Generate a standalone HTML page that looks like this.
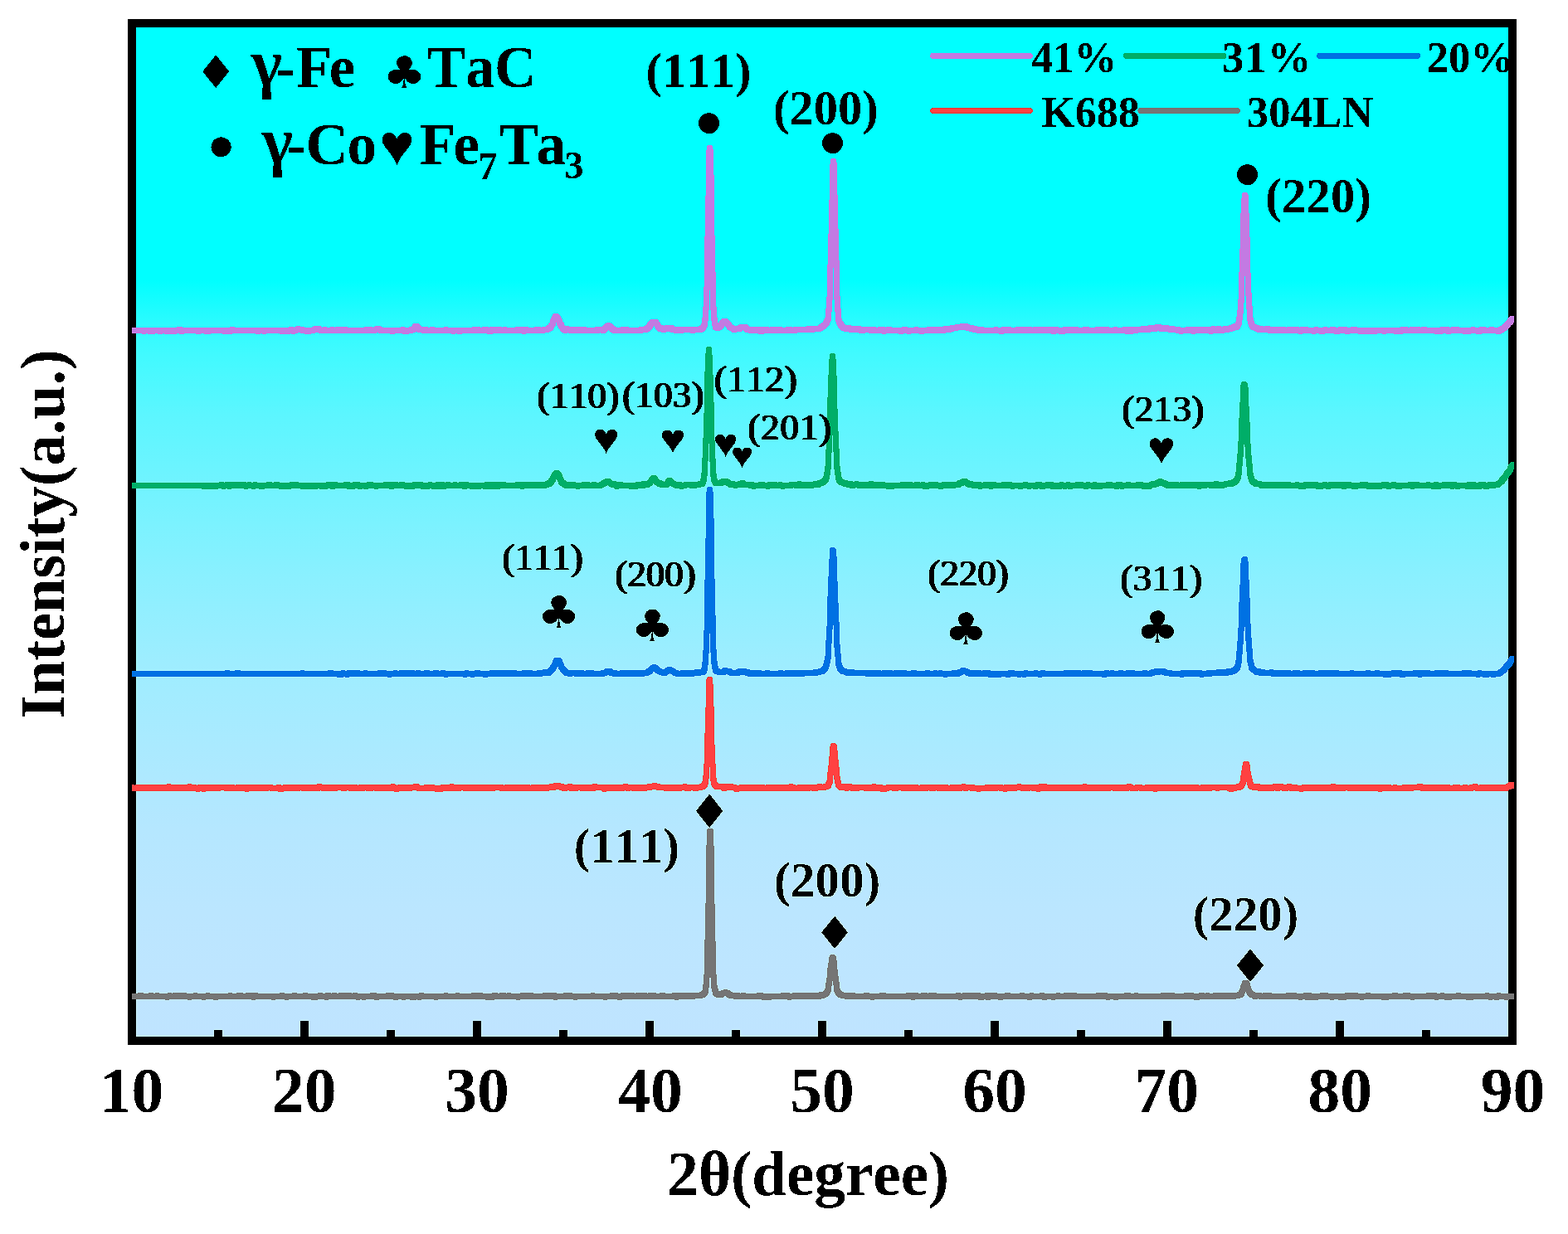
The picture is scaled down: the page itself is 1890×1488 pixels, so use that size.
<!DOCTYPE html>
<html lang="en"><head><meta charset="utf-8"><title>XRD patterns of 304LN, K688 and 20%, 31%, 41% coatings</title>
<style>html,body{margin:0;padding:0;background:#fff;width:1890px;height:1488px;overflow:hidden}svg{display:block}text{font-kerning:none;fill:#000;white-space:pre}</style></head><body>
<svg width="1890" height="1488" viewBox="0 0 1890 1488" role="img" aria-label="XRD patterns: Intensity (a.u.) versus 2θ (degree)">
<defs>
<linearGradient id="bg" gradientUnits="userSpaceOnUse" x1="0" y1="33" x2="0" y2="1250">
<stop offset="0.0000" stop-color="#00ffff"/>
<stop offset="0.2506" stop-color="#00ffff"/>
<stop offset="0.2769" stop-color="#1cfcff"/>
<stop offset="0.3016" stop-color="#34fbff"/>
<stop offset="0.3262" stop-color="#42faff"/>
<stop offset="0.3837" stop-color="#5cf6ff"/>
<stop offset="0.4659" stop-color="#74f3ff"/>
<stop offset="0.5481" stop-color="#8bf0ff"/>
<stop offset="0.6302" stop-color="#9eedff"/>
<stop offset="0.7124" stop-color="#aaeaff"/>
<stop offset="0.7946" stop-color="#b5e7ff"/>
<stop offset="0.8767" stop-color="#bbe6ff"/>
<stop offset="0.9507" stop-color="#bee5ff"/>
<stop offset="1.0000" stop-color="#bfe4ff"/>
</linearGradient>
<filter id="faux" x="-5%" y="-20%" width="110%" height="140%"><feOffset dx="1" dy="0" result="o"/><feOffset in="SourceGraphic" dx="2" dy="0" result="p"/><feMerge><feMergeNode in="SourceGraphic"/><feMergeNode in="o"/><feMergeNode in="p"/></feMerge></filter>
<filter id="crisp" filterUnits="userSpaceOnUse" x="0" y="0" width="1890" height="1488" color-interpolation-filters="sRGB"><feComponentTransfer><feFuncA type="discrete" tableValues="0 1"/></feComponentTransfer></filter>
<filter id="sharpen" filterUnits="userSpaceOnUse" x="0" y="0" width="1890" height="1488" color-interpolation-filters="sRGB"><feConvolveMatrix order="3" kernelMatrix="0 -0.08 0 -0.08 1.32 -0.08 0 -0.08 0" divisor="1" edgeMode="duplicate" preserveAlpha="true"/></filter>
<clipPath id="inner"><rect x="164" y="33" width="1654" height="1217"/></clipPath>
<clipPath id="data"><rect x="159" y="28" width="1665.6" height="1227"/></clipPath>
</defs>
<g id="chart" filter="url(#sharpen)">
<rect x="0" y="0" width="1890" height="1488" fill="#fff"/>
<rect x="164" y="33" width="1654" height="1217" fill="url(#bg)"/>
<g clip-path="url(#inner)">
<g id="legend" stroke-width="7" stroke-linecap="round" fill="none" shape-rendering="crispEdges">
<line x1="1124.6" y1="67.4" x2="1241.3" y2="67.4" stroke="#c37ae2"/>
<line x1="1357.5" y1="67.4" x2="1475" y2="67.4" stroke="#00ae68"/>
<line x1="1590.6" y1="67.4" x2="1708.5" y2="67.4" stroke="#0071e3"/>
<line x1="1124.6" y1="133.5" x2="1241.3" y2="133.5" stroke="#ff4141"/>
<line x1="1375" y1="133.5" x2="1491.3" y2="133.5" stroke="#757575"/>
</g>
<g id="legend-text" filter="url(#crisp)">
<text transform="translate(1243.26,87.10) scale(0.9784,1)" font-family="'Liberation Serif',serif" font-weight="bold" font-size="52.6">41%</text>
<text x="1472.93" y="87.10" font-family="'Liberation Serif',serif" font-weight="bold" font-size="52.6" letter-spacing="1.13">31%</text>
<text x="1719.66" y="87.10" font-family="'Liberation Serif',serif" font-weight="bold" font-size="52.6">20%</text>
<text transform="translate(1255.29,152.80) scale(0.9883,1)" font-family="'Liberation Serif',serif" font-weight="bold" font-size="52.6">K688</text>
<text x="1502.63" y="152.80" font-family="'Liberation Serif',serif" font-weight="bold" font-size="52.6" letter-spacing="0.24">304LN</text>
</g>
</g>
<g shape-rendering="crispEdges">
<rect x="159" y="28" width="1664" height="1227" fill="none" stroke="#000" stroke-width="10"/>
<rect x="258" y="1242" width="10" height="9" fill="#000"/>
<rect x="362" y="1231" width="10" height="20" fill="#000"/>
<rect x="466" y="1242" width="10" height="9" fill="#000"/>
<rect x="570" y="1231" width="10" height="20" fill="#000"/>
<rect x="674" y="1242" width="10" height="9" fill="#000"/>
<rect x="778" y="1231" width="10" height="20" fill="#000"/>
<rect x="882" y="1242" width="10" height="9" fill="#000"/>
<rect x="986" y="1231" width="10" height="20" fill="#000"/>
<rect x="1090" y="1242" width="10" height="9" fill="#000"/>
<rect x="1194" y="1231" width="10" height="20" fill="#000"/>
<rect x="1298" y="1242" width="10" height="9" fill="#000"/>
<rect x="1402" y="1231" width="10" height="20" fill="#000"/>
<rect x="1506" y="1242" width="10" height="9" fill="#000"/>
<rect x="1610" y="1231" width="10" height="20" fill="#000"/>
<rect x="1714" y="1242" width="10" height="9" fill="#000"/>
</g>
<g id="curves" shape-rendering="crispEdges" stroke="none">
<path id="c-grey" fill="#757575" d="M853 999h6v1h-6zM852 1000h8v19h-8zM851 1019h9v1h-9zM851 1020h10v69h-10zM850 1089h11v1h-11zM850 1090h12v43h-12zM849 1133h13v2h-13zM1001 1151h5v1h-5zM1000 1152h7v1h-7zM1000 1153h8v1h-8zM999 1154h9v4h-9zM999 1158h10v3h-10zM998 1161h11v6h-11zM997 1167h12v2h-12zM849 1135h14v40h-14zM997 1169h13v8h-13zM848 1175h16v4h-16zM997 1177h14v2h-14zM996 1179h15v4h-15zM1498 1182h7v1h-7zM1004 1183h7v1h-7zM996 1183h7v2h-7zM1497 1183h9v2h-9zM1497 1185h10v1h-10zM848 1179h7v8h-7zM857 1179h7v9h-7zM1004 1184h8v4h-8zM1496 1186h11v2h-11zM995 1185h8v4h-8zM1495 1188h12v1h-12zM847 1187h8v4h-8zM857 1188h8v4h-8zM1005 1188h7v4h-7zM995 1189h7v3h-7zM1495 1189h13v3h-13zM847 1191h7v3h-7zM1005 1192h8v2h-8zM994 1192h8v2h-8zM1494 1192h15v2h-15zM872 1193h5v1h-5zM858 1192h8v3h-8zM869 1194h11v1h-11zM1493 1194h17v1h-17zM993 1194h9v1h-9zM846 1194h8v1h-8zM1005 1194h9v1h-9zM1493 1195h18v1h-18zM858 1195h23v1h-23zM992 1195h10v1h-10zM1005 1195h10v1h-10zM845 1195h9v1h-9zM1491 1196h10v1h-10zM859 1196h24v1h-24zM1502 1196h11v1h-11zM843 1196h11v1h-11zM1006 1196h11v1h-11zM987 1196h14v1h-14zM1678 1197h7v1h-7zM275 1197h5v1h-5zM1550 1197h13v1h-13zM941 1197h11v1h-11zM1041 1197h7v1h-7zM712 1197h5v1h-5zM383 1197h6v1h-6zM1187 1197h15v1h-15zM955 1197h46v1h-46zM1092 1197h15v1h-15zM1152 1197h6v1h-6zM912 1197h8v1h-8zM505 1197h6v1h-6zM1282 1197h16v1h-16zM1060 1197h8v1h-8zM679 1197h11v1h-11zM1790 1197h5v1h-5zM1119 1197h10v1h-10zM365 1197h6v1h-6zM748 1197h17v1h-17zM446 1197h8v1h-8zM1160 1197h22v1h-22zM1445 1197h7v1h-7zM296 1197h15v1h-15zM1241 1197h5v1h-5zM1646 1197h6v1h-6zM1229 1197h6v1h-6zM208 1197h17v1h-17zM166 1197h7v1h-7zM1427 1197h12v1h-12zM1453 1197h5v1h-5zM535 1197h5v1h-5zM781 1197h10v1h-10zM1253 1197h6v1h-6zM810 1197h44v1h-44zM1367 1197h5v1h-5zM179 1197h6v1h-6zM400 1197h6v1h-6zM202 1197h5v1h-5zM1719 1197h13v1h-13zM1755 1197h6v1h-6zM1399 1197h17v1h-17zM337 1197h6v1h-6zM1691 1197h9v1h-9zM893 1197h6v1h-6zM1736 1197h5v1h-5zM425 1197h6v1h-6zM602 1197h8v1h-8zM408 1197h16v1h-16zM1273 1197h5v1h-5zM593 1197h7v1h-7zM549 1197h5v1h-5zM233 1197h5v1h-5zM568 1197h14v1h-14zM1110 1197h8v1h-8zM285 1197h8v1h-8zM248 1197h5v1h-5zM859 1197h33v1h-33zM611 1197h5v1h-5zM1591 1197h10v1h-10zM1804 1197h5v1h-5zM627 1197h16v1h-16zM1355 1197h8v1h-8zM1211 1197h7v1h-7zM352 1197h6v1h-6zM1462 1197h39v1h-39zM1621 1197h16v1h-16zM654 1197h17v1h-17zM735 1197h10v1h-10zM1571 1197h10v1h-10zM795 1197h7v1h-7zM465 1197h10v1h-10zM1502 1197h19v1h-19zM1006 1197h25v1h-25zM1522 1197h11v1h-11zM392 1197h7v1h-7zM187 1197h5v1h-5zM766 1197h14v1h-14zM1321 1197h14v1h-14zM859 1198h141v2h-141zM159 1198h694v2h-694zM1007 1198h493v2h-493zM1503 1198h322v2h-322zM860 1200h139v1h-139zM1504 1200h321v1h-321zM1008 1200h492v1h-492zM159 1200h693v1h-693zM861 1201h12v1h-12zM875 1201h123v1h-123zM159 1201h692v1h-692zM1505 1201h320v1h-320zM1009 1201h490v1h-490zM863 1202h9v1h-9zM1506 1202h319v1h-319zM1010 1202h488v1h-488zM876 1202h120v1h-120zM159 1202h691v1h-691zM159 1203h688v1h-688zM1509 1203h316v1h-316zM1013 1203h482v1h-482zM878 1203h116v1h-116zM884 1204h106v1h-106zM159 1204h679v1h-679zM1018 1204h472v1h-472zM1517 1204h308v1h-308zM1510 1204h6v1h-6zM523 1205h5v1h-5zM474 1205h6v1h-6zM436 1205h5v1h-5zM1439 1205h7v1h-7zM451 1205h6v1h-6zM243 1205h5v1h-5zM1801 1205h6v1h-6zM303 1205h5v1h-5zM1741 1205h9v1h-9zM1565 1205h5v1h-5zM1267 1205h5v1h-5zM1342 1205h6v1h-6zM1639 1205h5v1h-5zM813 1205h5v1h-5zM1573 1205h16v1h-16zM1179 1205h7v1h-7zM327 1205h5v1h-5zM391 1205h5v1h-5zM226 1205h5v1h-5zM1256 1205h6v1h-6zM1603 1205h5v1h-5zM199 1205h5v1h-5zM1098 1205h5v1h-5zM1333 1205h5v1h-5zM667 1205h5v1h-5zM1238 1205h6v1h-6zM429 1205h5v1h-5zM484 1205h5v1h-5zM1700 1205h5v1h-5zM1049 1205h5v1h-5zM1665 1205h9v1h-9zM727 1205h5v1h-5zM503 1205h5v1h-5zM1188 1205h6v1h-6zM691 1205h5v1h-5zM257 1205h6v1h-6zM585 1205h11v1h-11zM622 1205h5v1h-5zM494 1205h8v1h-8zM1155 1205h5v1h-5zM375 1205h8v1h-8zM744 1205h6v1h-6zM1813 1205h6v1h-6zM1613 1205h10v1h-10zM1767 1205h9v1h-9zM949 1205h5v1h-5zM1729 1205h5v1h-5zM918 1205h12v1h-12zM1794 1205h5v1h-5zM343 1205h5v1h-5zM1203 1205h6v1h-6z"/>
<path id="c-red" fill="#ff4141" d="M853 816h5v1h-5zM852 817h7v2h-7zM851 819h8v6h-8zM851 825h9v27h-9zM851 852h10v1h-10zM850 853h11v31h-11zM1002 896h5v1h-5zM849 884h12v14h-12zM1001 897h7v1h-7zM1001 898h8v2h-8zM1000 900h9v5h-9zM1000 905h10v7h-10zM999 912h11v4h-11zM1499 918h6v1h-6zM849 898h13v23h-13zM1498 919h8v3h-8zM999 916h12v7h-12zM1498 922h9v1h-9zM848 921h15v4h-15zM998 923h13v2h-13zM1497 923h10v6h-10zM1496 929h11v1h-11zM998 925h14v6h-14zM848 925h7v10h-7zM1496 930h12v5h-12zM997 931h15v4h-15zM1005 935h7v1h-7zM856 925h7v13h-7zM1495 935h14v4h-14zM847 935h8v4h-8zM1005 936h8v4h-8zM997 935h7v6h-7zM1006 940h7v1h-7zM856 938h8v4h-8zM1495 939h15v3h-15zM847 939h7v3h-7zM996 941h8v2h-8zM1494 942h16v1h-16zM857 942h7v1h-7zM846 942h8v2h-8zM1818 943h7v1h-7zM857 943h8v1h-8zM1494 943h8v1h-8zM1006 941h8v4h-8zM995 943h9v2h-9zM1503 943h8v2h-8zM786 944h6v1h-6zM1493 944h9v1h-9zM1817 944h8v1h-8zM845 944h9v1h-9zM667 944h9v1h-9zM857 944h9v1h-9zM662 945h18v1h-18zM201 945h5v1h-5zM1503 945h16v1h-16zM1051 945h5v1h-5zM542 945h5v1h-5zM951 945h5v1h-5zM1226 945h5v1h-5zM992 945h11v1h-11zM1604 945h6v1h-6zM1252 945h10v1h-10zM714 945h6v1h-6zM226 945h5v1h-5zM1305 945h5v1h-5zM780 945h16v1h-16zM985 945h6v1h-6zM751 945h6v1h-6zM823 945h5v1h-5zM1490 945h12v1h-12zM1775 945h6v1h-6zM1358 945h6v1h-6zM1159 945h5v1h-5zM857 945h27v1h-27zM1708 945h7v1h-7zM1007 945h20v1h-20zM1551 945h6v1h-6zM1534 945h13v1h-13zM471 945h5v1h-5zM684 945h6v1h-6zM1815 945h10v1h-10zM498 945h7v1h-7zM843 945h11v1h-11zM382 945h6v1h-6zM1187 946h22v1h-22zM608 946h31v1h-31zM1569 946h108v1h-108zM163 946h74v1h-74zM1380 946h65v1h-65zM1771 946h11v1h-11zM923 946h36v1h-36zM1109 946h34v1h-34zM1751 946h9v1h-9zM479 946h27v1h-27zM857 946h31v1h-31zM1145 946h30v1h-30zM1210 946h156v1h-156zM1447 946h54v1h-54zM640 946h213v1h-213zM1503 946h61v1h-61zM333 946h6v1h-6zM961 946h42v1h-42zM159 946h3v1h-3zM1007 946h57v1h-57zM1783 946h42v1h-42zM341 946h90v1h-90zM531 946h76v1h-76zM891 946h31v1h-31zM1068 946h39v1h-39zM432 946h46v1h-46zM1763 946h6v1h-6zM511 946h13v1h-13zM238 946h45v1h-45zM1690 946h58v1h-58zM1368 946h9v1h-9zM284 946h45v1h-45zM1679 946h5v1h-5zM1007 947h494v1h-494zM159 947h694v2h-694zM858 947h144v2h-144zM1007 948h493v1h-493zM1504 947h321v3h-321zM859 949h143v1h-143zM1008 949h492v1h-492zM159 949h693v1h-693zM1505 950h320v1h-320zM860 950h141v1h-141zM159 950h692v1h-692zM1009 950h490v1h-490zM1010 951h488v1h-488zM861 951h138v1h-138zM159 951h691v1h-691zM1506 951h316v1h-316zM869 952h127v1h-127zM1509 952h310v1h-310zM1011 952h485v1h-485zM674 952h112v1h-112zM159 952h511v1h-511zM791 952h56v1h-56zM677 953h7v1h-7zM1778 953h40v1h-40zM1554 953h68v1h-68zM1120 953h8v1h-8zM1243 953h96v1h-96zM978 953h8v1h-8zM1373 953h88v1h-88zM761 953h19v1h-19zM1465 953h5v1h-5zM870 953h6v1h-6zM1362 953h10v1h-10zM1041 953h31v1h-31zM363 953h23v1h-23zM602 953h60v1h-60zM1075 953h8v1h-8zM159 953h107v1h-107zM835 953h7v1h-7zM502 953h54v1h-54zM1169 953h34v1h-34zM1341 953h20v1h-20zM325 953h37v1h-37zM1624 953h80v1h-80zM1025 953h11v1h-11zM387 953h20v1h-20zM1516 953h20v1h-20zM725 953h28v1h-28zM1086 953h33v1h-33zM1129 953h31v1h-31zM686 953h11v1h-11zM558 953h39v1h-39zM420 953h20v1h-20zM1018 953h5v1h-5zM1537 953h6v1h-6zM1230 953h12v1h-12zM699 953h19v1h-19zM1161 953h6v1h-6zM1204 953h22v1h-22zM1545 953h8v1h-8zM825 953h8v1h-8zM884 953h93v1h-93zM1712 953h64v1h-64zM800 953h22v1h-22zM270 953h54v1h-54zM441 953h9v1h-9zM411 953h7v1h-7zM1479 953h12v1h-12zM451 953h46v1h-46zM754 953h6v1h-6zM726 954h5v1h-5zM335 954h7v1h-7zM1566 954h5v1h-5zM243 954h5v1h-5zM475 954h6v1h-6zM236 954h5v1h-5zM524 954h10v1h-10zM1061 954h8v1h-8zM1177 954h5v1h-5zM1390 954h5v1h-5zM1661 954h5v1h-5zM1481 954h6v1h-6zM1209 954h5v1h-5zM885 954h6v1h-6zM295 954h5v1h-5zM1249 954h5v1h-5z"/>
<path id="c-blue" fill="#0071e3" d="M853 587h5v1h-5zM852 588h7v5h-7zM851 593h9v32h-9zM851 625h10v24h-10zM1001 660h5v1h-5zM1000 661h7v1h-7zM1000 662h8v9h-8zM1498 671h5v1h-5zM1497 672h7v1h-7zM1000 671h9v3h-9zM1496 673h8v4h-8zM1496 677h9v2h-9zM999 674h10v21h-10zM850 649h11v49h-11zM1495 679h10v20h-10zM850 698h12v1h-12zM998 695h11v6h-11zM1495 699h11v6h-11zM998 701h12v18h-12zM1494 705h12v16h-12zM1494 721h13v5h-13zM997 719h13v8h-13zM849 699h13v43h-13zM997 727h14v23h-14zM1493 726h14v26h-14zM997 750h15v4h-15zM997 754h7v1h-7zM1493 752h15v4h-15zM1493 756h7v1h-7zM996 755h8v4h-8zM849 742h14v18h-14zM1492 757h8v4h-8zM848 760h15v4h-15zM1501 756h7v13h-7zM996 759h7v13h-7zM1492 761h7v12h-7zM1501 769h8v4h-8zM995 772h8v4h-8zM1005 754h7v23h-7zM1491 773h8v4h-8zM1005 777h8v4h-8zM1502 773h7v9h-7zM856 764h7v19h-7zM848 764h7v20h-7zM1491 777h7v8h-7zM1502 782h8v4h-8zM856 783h8v4h-8zM1006 781h7v7h-7zM847 784h8v4h-8zM1490 785h8v4h-8zM995 776h7v15h-7zM1006 788h8v4h-8zM1820 791h5v1h-5zM1819 792h6v2h-6zM668 793h8v1h-8zM1503 786h7v9h-7zM994 791h8v4h-8zM1818 794h7v1h-7zM667 794h10v1h-10zM1490 789h7v7h-7zM667 795h11v1h-11zM994 795h7v1h-7zM857 787h7v10h-7zM1817 795h8v2h-8zM847 788h7v10h-7zM666 796h12v2h-12zM1816 797h9v1h-9zM1007 792h7v7h-7zM1503 795h8v4h-8zM666 798h13v1h-13zM1815 798h10v1h-10zM1489 796h8v4h-8zM993 796h8v4h-8zM665 799h14v1h-14zM1814 799h10v1h-10zM857 797h8v4h-8zM1489 800h7v1h-7zM1813 800h11v1h-11zM665 800h15v1h-15zM846 798h8v4h-8zM1007 799h8v3h-8zM786 801h5v1h-5zM664 801h16v1h-16zM1504 799h8v4h-8zM992 800h8v3h-8zM858 801h7v2h-7zM1812 801h11v2h-11zM1488 801h8v2h-8zM1007 802h9v1h-9zM784 802h9v1h-9zM663 802h17v1h-17zM783 803h11v1h-11zM1008 803h8v1h-8zM1811 803h11v1h-11zM663 803h18v1h-18zM991 803h9v1h-9zM1487 803h9v1h-9zM1505 803h8v1h-8zM846 802h7v3h-7zM782 804h13v1h-13zM990 804h9v1h-9zM1505 804h9v1h-9zM673 804h9v1h-9zM804 804h6v1h-6zM662 804h10v1h-10zM1810 804h11v1h-11zM1008 804h9v1h-9zM1486 804h10v1h-10zM858 803h8v3h-8zM673 805h10v1h-10zM1484 805h11v1h-11zM1505 805h10v1h-10zM989 805h10v1h-10zM781 805h15v1h-15zM1158 805h6v1h-6zM871 805h6v1h-6zM802 805h10v1h-10zM1008 805h10v1h-10zM1809 805h11v1h-11zM661 805h10v1h-10zM845 805h8v2h-8zM1391 806h14v1h-14zM1478 806h17v1h-17zM801 806h13v1h-13zM1157 806h10v1h-10zM870 806h12v1h-12zM1808 806h11v1h-11zM660 806h11v1h-11zM889 806h11v1h-11zM986 806h13v1h-13zM858 806h10v1h-10zM1009 806h12v1h-12zM1505 806h15v1h-15zM729 806h9v1h-9zM673 806h11v1h-11zM779 806h19v1h-19zM1387 807h20v1h-20zM778 807h37v1h-37zM1505 807h20v1h-20zM837 807h16v1h-16zM674 807h11v1h-11zM887 807h17v1h-17zM859 807h24v1h-24zM728 807h11v1h-11zM980 807h18v1h-18zM1154 807h15v1h-15zM1530 807h5v1h-5zM1806 807h12v1h-12zM1009 807h21v1h-21zM1466 807h29v1h-29zM654 807h16v1h-16zM362 808h5v1h-5zM1805 808h12v1h-12zM572 808h7v1h-7zM283 808h7v1h-7zM1063 808h13v1h-13zM938 808h6v1h-6zM1781 808h5v1h-5zM560 808h5v1h-5zM1125 808h5v1h-5zM522 808h7v1h-7zM647 808h23v1h-23zM747 808h71v1h-71zM1009 808h53v1h-53zM1282 808h21v1h-21zM481 808h19v1h-19zM1077 808h16v1h-16zM1423 808h26v1h-26zM455 808h11v1h-11zM706 808h10v1h-10zM474 808h5v1h-5zM675 808h29v1h-29zM1558 808h9v1h-9zM1454 808h40v1h-40zM1385 808h28v1h-28zM590 808h33v1h-33zM1184 808h10v1h-10zM1131 808h5v1h-5zM1646 808h6v1h-6zM1348 808h6v1h-6zM1246 808h5v1h-5zM1506 808h50v1h-50zM820 808h33v1h-33zM395 808h7v1h-7zM531 808h6v1h-6zM411 808h5v1h-5zM418 808h16v1h-16zM1627 808h5v1h-5zM1338 808h5v1h-5zM629 808h13v1h-13zM438 808h5v1h-5zM1304 808h13v1h-13zM859 808h59v1h-59zM922 808h6v1h-6zM946 808h52v1h-52zM1377 808h6v1h-6zM1589 808h25v1h-25zM1762 808h12v1h-12zM1098 808h7v1h-7zM271 808h6v1h-6zM511 808h7v1h-7zM1115 808h6v1h-6zM1331 808h6v1h-6zM1147 808h36v1h-36zM1357 808h11v1h-11zM1657 808h6v1h-6zM1677 808h13v1h-13zM501 808h6v1h-6zM1254 808h6v1h-6zM724 808h20v1h-20zM1215 808h8v1h-8zM1703 808h21v1h-21zM1729 808h17v1h-17zM1234 808h5v1h-5zM1570 808h15v1h-15zM159 809h510v1h-510zM675 809h177v1h-177zM1010 809h483v1h-483zM859 809h138v1h-138zM1507 809h310v1h-310zM789 810h63v1h-63zM859 810h137v1h-137zM676 810h111v1h-111zM159 810h509v1h-509zM1508 810h308v1h-308zM1011 810h481v1h-481zM677 811h110v1h-110zM790 811h62v1h-62zM860 811h135v1h-135zM1012 811h479v1h-479zM1510 811h305v1h-305zM159 811h508v1h-508zM678 812h108v1h-108zM861 812h133v1h-133zM792 812h15v1h-15zM808 812h43v1h-43zM1013 812h476v1h-476zM1511 812h302v1h-302zM159 812h507v1h-507zM1400 813h86v1h-86zM1017 813h144v1h-144zM877 813h113v1h-113zM679 813h105v1h-105zM159 813h506v1h-506zM1512 813h300v1h-300zM810 813h40v1h-40zM794 813h11v1h-11zM864 813h11v1h-11zM1163 813h236v1h-236zM1517 814h294v1h-294zM1164 814h228v1h-228zM797 814h7v1h-7zM898 814h88v1h-88zM1403 814h78v1h-78zM1019 814h140v1h-140zM680 814h52v1h-52zM159 814h505v1h-505zM811 814h34v1h-34zM879 814h13v1h-13zM734 814h48v1h-48zM1167 815h222v1h-222zM1532 815h277v1h-277zM684 815h6v1h-6zM1043 815h114v1h-114zM738 815h39v1h-39zM901 815h69v1h-69zM692 815h37v1h-37zM814 815h23v1h-23zM1409 815h52v1h-52zM159 815h495v1h-495zM1446 816h5v1h-5zM1687 816h7v1h-7zM1328 816h6v1h-6zM1226 816h5v1h-5zM1797 816h6v1h-6zM1709 816h5v1h-5zM1787 816h8v1h-8zM406 816h8v1h-8zM1232 816h5v1h-5zM582 816h6v1h-6zM1251 816h5v1h-5zM1667 816h10v1h-10zM567 816h5v1h-5zM535 816h5v1h-5zM1779 816h5v1h-5zM558 816h5v1h-5zM1137 816h5v1h-5zM416 816h5v1h-5zM1212 816h6v1h-6zM467 816h5v1h-5zM1422 816h5v1h-5zM1191 816h16v1h-16z"/>
<path id="c-green" fill="#00ae68" d="M852 418h5v1h-5zM851 419h7v7h-7zM1001 426h5v1h-5zM850 426h8v2h-8zM1000 427h7v6h-7zM850 428h9v20h-9zM999 433h9v19h-9zM849 448h10v4h-10zM998 452h10v1h-10zM1497 460h5v1h-5zM1496 461h7v1h-7zM1496 462h8v2h-8zM1495 464h9v3h-9zM998 453h11v26h-11zM849 452h11v33h-11zM1495 467h10v18h-10zM1494 485h11v5h-11zM997 479h12v14h-12zM849 485h12v13h-12zM1494 490h12v14h-12zM1493 504h13v5h-13zM997 493h13v27h-13zM997 520h14v1h-14zM996 521h15v4h-15zM848 498h13v30h-13zM847 528h14v3h-14zM1493 509h14v23h-14zM847 531h15v4h-15zM1492 532h15v3h-15zM1492 535h16v1h-16zM1500 536h8v3h-8zM1004 525h7v16h-7zM996 525h7v17h-7zM1004 541h8v4h-8zM995 542h8v4h-8zM1492 536h7v11h-7zM1501 539h7v10h-7zM1491 547h8v4h-8zM847 535h7v17h-7zM855 535h7v18h-7zM1501 549h8v4h-8zM846 552h8v4h-8zM855 553h8v4h-8zM1491 551h7v7h-7zM1821 557h4v1h-4zM1502 553h7v6h-7zM1820 558h5v1h-5zM1819 559h6v1h-6zM1005 545h7v17h-7zM995 546h7v16h-7zM1490 558h8v4h-8zM1818 560h7v2h-7zM1502 559h8v4h-8zM1817 562h8v3h-8zM1005 562h8v4h-8zM994 562h8v4h-8zM1816 565h9v1h-9zM1815 566h9v1h-9zM668 567h6v1h-6zM1814 567h10v1h-10zM1490 562h7v7h-7zM994 566h7v3h-7zM1006 566h7v3h-7zM667 568h8v1h-8zM1813 568h11v1h-11zM846 556h7v14h-7zM1503 563h7v7h-7zM666 569h10v1h-10zM1813 569h10v1h-10zM856 557h7v14h-7zM1812 570h10v2h-10zM665 570h12v2h-12zM1489 569h8v4h-8zM993 569h8v4h-8zM1006 569h8v4h-8zM1811 572h10v1h-10zM1503 570h8v4h-8zM845 570h8v4h-8zM664 572h14v2h-14zM1810 573h10v1h-10zM993 573h7v1h-7zM785 573h6v1h-6zM1489 573h7v1h-7zM856 571h8v4h-8zM1007 573h7v2h-7zM1809 574h10v1h-10zM663 574h15v1h-15zM784 574h8v1h-8zM992 574h8v2h-8zM1488 574h8v2h-8zM1808 575h11v1h-11zM783 575h10v1h-10zM663 575h16v1h-16zM845 574h7v3h-7zM1504 574h8v3h-8zM1007 575h8v2h-8zM857 575h7v2h-7zM662 576h17v1h-17zM991 576h9v1h-9zM1487 576h9v1h-9zM1807 576h11v1h-11zM804 576h6v1h-6zM782 576h11v1h-11zM661 577h19v1h-19zM869 577h9v1h-9zM990 577h10v1h-10zM1007 577h9v1h-9zM803 577h8v1h-8zM1504 577h9v1h-9zM729 577h7v1h-7zM1396 577h5v1h-5zM782 577h12v1h-12zM1159 577h7v1h-7zM1486 577h10v1h-10zM1807 577h10v1h-10zM857 577h8v2h-8zM1806 578h11v1h-11zM1484 578h11v1h-11zM661 578h9v1h-9zM1157 578h10v1h-10zM1505 578h10v1h-10zM802 578h10v1h-10zM1007 578h11v1h-11zM1394 578h9v1h-9zM988 578h11v1h-11zM867 578h13v1h-13zM781 578h14v1h-14zM727 578h10v1h-10zM671 578h9v1h-9zM844 577h8v3h-8zM780 579h18v1h-18zM892 579h6v1h-6zM1480 579h15v1h-15zM1008 579h14v1h-14zM857 579h24v1h-24zM985 579h14v1h-14zM1805 579h11v1h-11zM672 579h10v1h-10zM1154 579h15v1h-15zM725 579h13v1h-13zM1392 579h14v1h-14zM1505 579h11v1h-11zM659 579h11v1h-11zM802 579h11v1h-11zM980 580h19v1h-19zM889 580h10v1h-10zM1387 580h21v1h-21zM724 580h19v1h-19zM1505 580h16v1h-16zM841 580h11v1h-11zM773 580h27v1h-27zM1153 580h20v1h-20zM657 580h13v1h-13zM1463 580h6v1h-6zM1030 580h5v1h-5zM961 580h5v1h-5zM1803 580h12v1h-12zM801 580h14v1h-14zM672 580h11v1h-11zM1475 580h19v1h-19zM1008 580h20v1h-20zM1047 580h6v1h-6zM857 580h29v1h-29zM298 581h5v1h-5zM1285 581h5v1h-5zM1260 581h10v1h-10zM1008 581h59v1h-59zM1110 581h5v1h-5zM1571 581h18v1h-18zM1782 581h9v1h-9zM1594 581h6v1h-6zM1248 581h8v1h-8zM1369 581h9v1h-9zM349 581h11v1h-11zM713 581h6v1h-6zM481 581h7v1h-7zM1677 581h6v1h-6zM553 581h12v1h-12zM264 581h6v1h-6zM766 581h56v1h-56zM1561 581h5v1h-5zM1345 581h8v1h-8zM925 581h12v1h-12zM1085 581h15v1h-15zM1768 581h11v1h-11zM271 581h26v1h-26zM621 581h48v1h-48zM701 581h10v1h-10zM1135 581h48v1h-48zM1277 581h5v1h-5zM321 581h7v1h-7zM425 581h9v1h-9zM914 581h8v1h-8zM1309 581h5v1h-5zM1728 581h6v1h-6zM1601 581h28v1h-28zM330 581h7v1h-7zM824 581h27v1h-27zM673 581h21v1h-21zM1233 581h6v1h-6zM414 581h8v1h-8zM951 581h47v1h-47zM1793 581h21v1h-21zM938 581h5v1h-5zM1357 581h6v1h-6zM1333 581h8v1h-8zM462 581h18v1h-18zM1506 581h50v1h-50zM516 581h5v1h-5zM442 581h8v1h-8zM1639 581h10v1h-10zM1102 581h7v1h-7zM1738 581h18v1h-18zM584 581h26v1h-26zM525 581h11v1h-11zM1207 581h13v1h-13zM1665 581h9v1h-9zM1119 581h12v1h-12zM722 581h29v1h-29zM305 581h5v1h-5zM1719 581h5v1h-5zM1185 581h16v1h-16zM1385 581h36v1h-36zM1296 581h10v1h-10zM1317 581h5v1h-5zM1697 581h14v1h-14zM537 581h6v1h-6zM497 581h13v1h-13zM393 581h14v1h-14zM1422 581h72v1h-72zM858 581h51v1h-51zM546 581h5v1h-5zM673 582h178v1h-178zM858 582h139v1h-139zM1009 582h484v1h-484zM1506 582h308v1h-308zM159 582h509v2h-509zM1507 583h306v1h-306zM1010 583h482v1h-482zM859 583h137v1h-137zM788 583h63v1h-63zM673 583h114v1h-114zM1011 584h480v1h-480zM1508 584h303v1h-303zM674 584h113v1h-113zM859 584h136v1h-136zM159 584h508v1h-508zM789 584h61v1h-61zM733 585h53v1h-53zM1510 585h300v1h-300zM1163 585h326v1h-326zM675 585h57v1h-57zM875 585h118v1h-118zM1014 585h148v1h-148zM791 585h59v1h-59zM860 585h12v1h-12zM159 585h507v1h-507zM677 586h53v1h-53zM877 586h113v1h-113zM1511 586h298v1h-298zM734 586h50v1h-50zM159 586h506v1h-506zM792 586h15v1h-15zM1164 586h233v1h-233zM1016 586h143v1h-143zM1401 586h86v1h-86zM809 586h40v1h-40zM1020 587h138v1h-138zM1403 587h76v1h-76zM159 587h503v1h-503zM1166 587h228v1h-228zM795 587h11v1h-11zM878 587h111v1h-111zM811 587h34v1h-34zM736 587h47v1h-47zM1517 587h291v1h-291zM678 587h50v1h-50zM1033 588h119v1h-119zM159 588h500v1h-500zM957 588h24v1h-24zM1171 588h218v1h-218zM680 588h46v1h-46zM1518 588h285v1h-285zM902 588h54v1h-54zM740 588h38v1h-38zM884 588h5v1h-5zM1405 588h50v1h-50zM1024 588h7v1h-7zM831 588h9v1h-9zM813 588h15v1h-15zM1457 588h19v1h-19zM941 589h5v1h-5zM1287 589h6v1h-6zM336 589h15v1h-15zM557 589h6v1h-6zM1617 589h6v1h-6zM1754 589h6v1h-6zM1766 589h20v1h-20zM243 589h20v1h-20zM294 589h5v1h-5zM303 589h5v1h-5zM1227 589h6v1h-6zM1131 589h6v1h-6zM1629 589h8v1h-8zM1068 589h10v1h-10zM520 589h18v1h-18zM1245 589h6v1h-6zM1350 589h5v1h-5zM694 589h5v1h-5zM438 589h6v1h-6zM1281 589h5v1h-5zM1112 589h8v1h-8zM1647 589h19v1h-19zM758 589h11v1h-11zM923 589h5v1h-5zM1306 589h6v1h-6zM267 589h5v1h-5zM385 589h10v1h-10zM451 589h5v1h-5zM1343 589h6v1h-6zM1586 589h9v1h-9zM1218 589h5v1h-5zM398 589h6v1h-6zM566 589h14v1h-14zM312 589h7v1h-7zM906 589h5v1h-5zM1443 589h5v1h-5zM1253 589h7v1h-7zM418 589h10v1h-10zM741 589h5v1h-5zM1376 589h12v1h-12zM507 589h11v1h-11zM1700 589h5v1h-5zM1682 589h8v1h-8zM431 589h6v1h-6zM487 589h13v1h-13zM582 589h21v1h-21zM1315 589h14v1h-14zM819 589h5v1h-5zM1725 589h12v1h-12zM1192 589h5v1h-5zM362 589h21v1h-21zM1565 589h9v1h-9zM627 589h5v1h-5zM274 589h5v1h-5zM1266 589h14v1h-14zM1671 589h6v1h-6zM1238 589h5v1h-5zM469 589h6v1h-6zM1748 589h5v1h-5zM1788 589h7v1h-7zM1179 589h5v1h-5zM1598 589h6v1h-6z"/>
<path id="c-purple" fill="#c37ae2" d="M853 175h5v1h-5zM852 176h7v4h-7zM852 180h8v1h-8zM1002 191h5v1h-5zM1001 192h7v4h-7zM1001 196h8v2h-8zM851 181h9v30h-9zM1498 232h5v1h-5zM1000 198h9v37h-9zM1497 233h7v2h-7zM851 211h10v25h-10zM1497 235h8v4h-8zM1000 235h10v6h-10zM1496 239h9v18h-9zM999 241h11v35h-11zM999 276h12v6h-12zM850 236h11v48h-11zM850 284h12v1h-12zM1495 257h11v29h-11zM1495 286h12v14h-12zM998 282h13v32h-13zM998 314h14v5h-14zM997 319h15v4h-15zM849 285h13v43h-13zM1494 300h13v28h-13zM1493 328h14v1h-14zM1493 329h15v4h-15zM849 328h14v18h-14zM848 346h15v4h-15zM1501 333h7v20h-7zM1005 323h7v34h-7zM1501 353h8v4h-8zM997 323h7v35h-7zM1493 333h7v28h-7zM1005 357h8v4h-8zM996 358h8v4h-8zM1492 361h8v4h-8zM1502 357h7v12h-7zM848 350h7v20h-7zM856 350h7v20h-7zM1006 361h7v11h-7zM996 362h7v10h-7zM1502 369h8v4h-8zM1492 365h7v9h-7zM856 370h8v4h-8zM847 370h8v4h-8zM995 372h8v4h-8zM1006 372h8v4h-8zM1491 374h8v4h-8zM667 378h6v1h-6zM666 379h8v1h-8zM666 380h9v1h-9zM1491 378h7v4h-7zM1820 381h5v1h-5zM1503 373h7v10h-7zM847 374h7v9h-7zM857 374h7v9h-7zM995 376h7v7h-7zM665 381h11v2h-11zM1819 382h6v1h-6zM1007 376h7v8h-7zM1818 383h7v1h-7zM994 383h8v2h-8zM664 383h13v2h-13zM870 384h7v1h-7zM1490 382h8v4h-8zM1817 384h8v2h-8zM869 385h9v1h-9zM784 385h9v1h-9zM857 383h8v4h-8zM1503 383h8v4h-8zM846 383h8v4h-8zM1007 384h8v3h-8zM993 385h9v2h-9zM1816 386h9v1h-9zM783 386h11v1h-11zM868 386h11v1h-11zM663 385h15v3h-15zM1490 386h7v2h-7zM1007 387h9v1h-9zM782 387h12v1h-12zM1815 387h10v1h-10zM867 387h13v1h-13zM858 387h7v2h-7zM992 387h9v2h-9zM867 388h14v1h-14zM1814 388h11v1h-11zM781 388h14v1h-14zM663 388h16v1h-16zM846 387h7v3h-7zM1504 387h8v3h-8zM1489 388h8v2h-8zM1008 388h9v2h-9zM731 389h5v1h-5zM990 389h10v1h-10zM662 389h8v1h-8zM1813 389h11v1h-11zM858 389h24v2h-24zM780 389h16v2h-16zM1157 390h10v1h-10zM1504 390h9v1h-9zM498 390h7v1h-7zM1008 390h10v1h-10zM1486 390h11v1h-11zM729 390h9v1h-9zM1812 390h12v1h-12zM989 390h11v1h-11zM671 389h9v3h-9zM661 390h9v2h-9zM845 390h8v2h-8zM891 391h10v1h-10zM987 391h13v1h-13zM1505 391h10v1h-10zM1009 391h10v1h-10zM779 391h18v1h-18zM1484 391h13v1h-13zM728 391h11v1h-11zM1392 391h8v1h-8zM1151 391h18v1h-18zM858 391h25v1h-25zM497 391h9v1h-9zM1811 391h12v1h-12zM1384 392h25v1h-25zM858 392h27v1h-27zM1481 392h15v1h-15zM672 392h9v1h-9zM1505 392h13v1h-13zM497 392h10v1h-10zM1145 392h29v1h-29zM986 392h13v1h-13zM801 392h11v1h-11zM778 392h22v1h-22zM889 392h13v1h-13zM1810 392h11v1h-11zM727 392h13v1h-13zM844 392h9v1h-9zM659 392h11v1h-11zM1009 392h17v1h-17zM1460 393h5v1h-5zM378 393h9v1h-9zM1466 393h6v1h-6zM1808 393h13v1h-13zM1524 393h7v1h-7zM658 393h11v1h-11zM726 393h15v1h-15zM842 393h11v1h-11zM1010 393h28v1h-28zM874 393h29v1h-29zM672 393h14v1h-14zM1474 393h22v1h-22zM1505 393h18v1h-18zM1375 393h41v1h-41zM789 393h24v1h-24zM496 393h12v1h-12zM357 393h5v1h-5zM452 393h7v1h-7zM972 393h26v1h-26zM776 393h12v1h-12zM1137 393h41v1h-41zM859 393h14v2h-14zM928 394h15v1h-15zM789 394h63v1h-63zM277 394h6v1h-6zM653 394h15v1h-15zM673 394h34v1h-34zM439 394h10v1h-10zM1198 394h5v1h-5zM1068 394h7v1h-7zM450 394h11v1h-11zM1087 394h7v1h-7zM606 394h5v1h-5zM355 394h12v1h-12zM1102 394h5v1h-5zM1584 394h5v1h-5zM590 394h15v1h-15zM875 394h52v1h-52zM1058 394h9v1h-9zM483 394h5v1h-5zM1429 394h66v1h-66zM644 394h8v1h-8zM1736 394h11v1h-11zM569 394h10v1h-10zM1305 394h8v1h-8zM1773 394h5v1h-5zM1506 394h44v1h-44zM1245 394h31v1h-31zM1749 394h10v1h-10zM717 394h26v1h-26zM947 394h8v1h-8zM1342 394h5v1h-5zM1613 394h11v1h-11zM1806 394h14v1h-14zM348 394h6v1h-6zM1117 394h69v1h-69zM748 394h10v1h-10zM1688 394h9v1h-9zM1713 394h7v1h-7zM1595 394h5v1h-5zM1699 394h13v1h-13zM1353 394h70v1h-70zM1281 394h19v1h-19zM1783 394h8v1h-8zM493 394h23v1h-23zM956 394h41v1h-41zM1010 394h46v1h-46zM581 394h8v1h-8zM1551 394h15v1h-15zM518 394h6v1h-6zM398 394h5v1h-5zM535 394h5v1h-5zM1603 394h7v1h-7zM621 394h16v1h-16zM1320 394h17v1h-17zM1628 394h8v1h-8zM376 394h12v1h-12zM1795 394h6v1h-6zM389 394h5v1h-5zM770 394h17v1h-17zM1207 394h12v1h-12zM1567 394h10v1h-10zM404 394h15v1h-15zM213 394h7v1h-7zM1224 394h20v1h-20zM1011 395h484v1h-484zM1506 395h313v1h-313zM876 395h120v1h-120zM159 395h509v1h-509zM790 395h62v1h-62zM673 395h114v1h-114zM859 395h13v1h-13zM859 396h12v1h-12zM1507 396h311v1h-311zM876 396h119v1h-119zM674 396h112v1h-112zM1012 396h482v1h-482zM790 396h61v1h-61zM159 396h508v2h-508zM675 397h110v1h-110zM877 397h116v1h-116zM860 397h10v1h-10zM791 397h60v1h-60zM1013 397h480v1h-480zM1508 397h309v1h-309zM1164 398h325v1h-325zM1511 398h305v1h-305zM675 398h58v1h-58zM862 398h6v1h-6zM734 398h50v1h-50zM879 398h16v1h-16zM896 398h96v1h-96zM1014 398h141v1h-141zM792 398h58v1h-58zM159 398h507v1h-507zM881 399h13v1h-13zM897 399h93v1h-93zM1513 399h301v1h-301zM1168 399h227v1h-227zM159 399h505v1h-505zM735 399h48v1h-48zM676 399h56v1h-56zM1017 399h133v1h-133zM1397 399h89v1h-89zM793 399h56v1h-56zM1023 400h124v1h-124zM882 400h6v1h-6zM159 400h342v1h-342zM736 400h45v1h-45zM1408 400h74v1h-74zM797 400h6v1h-6zM677 400h54v1h-54zM898 400h84v1h-84zM1172 400h215v1h-215zM503 400h159v1h-159zM1515 400h298v1h-298zM808 400h39v1h-39zM384 401h70v1h-70zM902 401h59v1h-59zM724 401h6v1h-6zM508 401h149v1h-149zM1417 401h59v1h-59zM1177 401h195v1h-195zM679 401h5v1h-5zM685 401h38v1h-38zM1047 401h93v1h-93zM159 401h200v1h-200zM1035 401h8v1h-8zM832 401h6v1h-6zM1528 401h283v1h-283zM456 401h42v1h-42zM812 401h12v1h-12zM738 401h37v1h-37zM362 401h18v1h-18zM1204 402h6v1h-6zM198 402h15v1h-15zM1680 402h11v1h-11zM470 402h6v1h-6zM1666 402h5v1h-5zM1779 402h7v1h-7zM268 402h12v1h-12zM1565 402h5v1h-5zM190 402h6v1h-6zM367 402h8v1h-8zM1108 402h6v1h-6zM1276 402h8v1h-8zM629 402h5v1h-5zM1093 402h5v1h-5zM236 402h6v1h-6zM1729 402h10v1h-10zM587 402h7v1h-7zM171 402h5v1h-5zM1763 402h10v1h-10zM1637 402h23v1h-23zM1581 402h5v1h-5zM178 402h9v1h-9zM1743 402h6v1h-6zM1457 402h5v1h-5zM1803 402h6v1h-6zM544 402h5v1h-5zM914 402h7v1h-7zM351 402h5v1h-5zM1083 402h6v1h-6zM1421 402h5v1h-5zM1063 402h5v1h-5zM246 402h8v1h-8zM1267 402h6v1h-6zM1621 402h6v1h-6zM1590 402h7v1h-7zM216 402h6v1h-6zM1356 402h10v1h-10zM308 402h6v1h-6zM316 402h5v1h-5zM337 402h13v1h-13zM485 402h8v1h-8zM1608 402h7v1h-7zM551 402h6v1h-6zM1436 402h5v1h-5z"/>
</g>
<g id="labels" filter="url(#crisp)">
<text x="778.57" y="104.80" font-family="'Liberation Serif',serif" font-weight="bold" font-size="58.5" letter-spacing="0.04">(111)</text>
<text x="931.97" y="149.80" font-family="'Liberation Serif',serif" font-weight="bold" font-size="58.5" letter-spacing="0.04">(200)</text>
<text x="1525.17" y="255.90" font-family="'Liberation Serif',serif" font-weight="bold" font-size="58.5" letter-spacing="0.29">(220)</text>
<text x="691.77" y="1039.50" font-family="'Liberation Serif',serif" font-weight="bold" font-size="58.5" letter-spacing="0.14">(111)</text>
<text x="933.07" y="1081.40" font-family="'Liberation Serif',serif" font-weight="bold" font-size="58.5" letter-spacing="0.39">(200)</text>
<text x="1437.87" y="1121.90" font-family="'Liberation Serif',serif" font-weight="bold" font-size="58.5" letter-spacing="0.17">(220)</text>
<text x="646.58" y="492.10" font-family="'Liberation Serif',serif" font-weight="normal" font-size="45" letter-spacing="0.30" filter="url(#faux)">(110)</text>
<text x="749.18" y="490.60" font-family="'Liberation Serif',serif" font-weight="normal" font-size="45" letter-spacing="0.20" filter="url(#faux)">(103)</text>
<text x="859.88" y="471.60" font-family="'Liberation Serif',serif" font-weight="normal" font-size="45" letter-spacing="0.58" filter="url(#faux)">(112)</text>
<text x="900.48" y="530.40" font-family="'Liberation Serif',serif" font-weight="normal" font-size="45" letter-spacing="0.75" filter="url(#faux)">(201)</text>
<text x="1351.47" y="508.40" font-family="'Liberation Serif',serif" font-weight="normal" font-size="45" letter-spacing="0.33" filter="url(#faux)">(213)</text>
<text x="604.48" y="686.90" font-family="'Liberation Serif',serif" font-weight="normal" font-size="45" letter-spacing="-0.07" filter="url(#faux)">(111)</text>
<text x="740.48" y="707.40" font-family="'Liberation Serif',serif" font-weight="normal" font-size="45" letter-spacing="-0.05" filter="url(#faux)">(200)</text>
<text x="1117.47" y="706.30" font-family="'Liberation Serif',serif" font-weight="normal" font-size="45" letter-spacing="-0.07" filter="url(#faux)">(220)</text>
<text x="1349.38" y="711.60" font-family="'Liberation Serif',serif" font-weight="normal" font-size="45" letter-spacing="0.30" filter="url(#faux)">(311)</text>
<text x="119.80" y="1340.60" font-family="'Liberation Serif',serif" font-weight="bold" font-size="77.5">10</text>
<text x="328.06" y="1340.60" font-family="'Liberation Serif',serif" font-weight="bold" font-size="77.5">20</text>
<text x="536.25" y="1340.60" font-family="'Liberation Serif',serif" font-weight="bold" font-size="77.5">30</text>
<text x="745.22" y="1340.60" font-family="'Liberation Serif',serif" font-weight="bold" font-size="77.5">40</text>
<text x="952.15" y="1340.60" font-family="'Liberation Serif',serif" font-weight="bold" font-size="77.5">50</text>
<text x="1160.35" y="1340.60" font-family="'Liberation Serif',serif" font-weight="bold" font-size="77.5">60</text>
<text x="1367.48" y="1340.60" font-family="'Liberation Serif',serif" font-weight="bold" font-size="77.5">70</text>
<text x="1576.44" y="1340.60" font-family="'Liberation Serif',serif" font-weight="bold" font-size="77.5">80</text>
<text x="1784.64" y="1340.60" font-family="'Liberation Serif',serif" font-weight="bold" font-size="77.5">90</text>
<text transform="translate(804.30,1440.80) scale(0.9829,1)" font-family="'Liberation Serif',serif" font-weight="bold" font-size="76.5">2θ(degree)</text>
<text transform="translate(76.8,866.92) rotate(-90) scale(0.9714,1)" font-family="'Liberation Serif',serif" font-weight="bold" font-size="76.5">Intensity(a.u.)</text>
<text font-family="'Liberation Serif',serif" font-weight="bold"><tspan x="302.63" y="103.43" font-size="79.41">γ</tspan><tspan x="332.24" y="104.80" font-size="71">-</tspan><tspan x="356.96" y="104.80" font-size="71" letter-spacing="-3.69">Fe</tspan></text>
<text transform="translate(514.65,104.80) scale(0.9834,1)" font-family="'Liberation Serif',serif" font-weight="bold" font-size="71">TaC</text>
<text font-family="'Liberation Serif',serif" font-weight="bold"><tspan x="315.63" y="197.33" font-size="79.41">γ</tspan><tspan x="345.24" y="198.00" font-size="71">-</tspan><tspan x="368.45" y="198.30" font-size="71" letter-spacing="-1.28">Co</tspan></text>
<text font-family="'Liberation Serif',serif" font-weight="bold"><tspan x="505.76" y="197.80" font-size="71" letter-spacing="-2.69">Fe</tspan><tspan x="576.13" y="215.50" font-size="46.5">7</tspan><tspan x="601.83" y="197.80" font-size="71" letter-spacing="-2.66">Ta</tspan><tspan x="680.26" y="215.20" font-size="46.5">3</tspan></text>
<text transform="translate(234.79,105.60) scale(1.041,1)" font-family="'DejaVu Sans',sans-serif" font-weight="normal" font-size="54.57">♦</text>
<text transform="translate(461.31,106.10) scale(1.101,1)" font-family="'DejaVu Sans',sans-serif" font-weight="normal" font-size="53.2">♣</text>
<text transform="translate(249.46,193.24) scale(1.021,1)" font-family="'Liberation Serif',serif" font-weight="normal" font-size="55.35">●</text>
<text transform="translate(457.09,199.48) scale(1.034,1)" font-family="'Liberation Serif',serif" font-weight="normal" font-size="69.78">♥</text>
<text transform="translate(837.01,164.92) scale(1.000,1)" font-family="'Liberation Serif',serif" font-weight="normal" font-size="58.14">●</text>
<text transform="translate(985.91,189.12) scale(1.000,1)" font-family="'Liberation Serif',serif" font-weight="normal" font-size="58.14">●</text>
<text transform="translate(1485.91,226.92) scale(1.000,1)" font-family="'Liberation Serif',serif" font-weight="normal" font-size="58.14">●</text>
<text transform="translate(714.14,546.50) scale(1.043,1)" font-family="'Liberation Serif',serif" font-weight="normal" font-size="52.86">♥</text>
<text transform="translate(795.12,545.63) scale(1.085,1)" font-family="'Liberation Serif',serif" font-weight="normal" font-size="49.34">♥</text>
<text transform="translate(859.45,551.43) scale(1.036,1)" font-family="'Liberation Serif',serif" font-weight="normal" font-size="49.16">♥</text>
<text transform="translate(880.68,563.67) scale(1.055,1)" font-family="'Liberation Serif',serif" font-weight="normal" font-size="44.05">♥</text>
<text transform="translate(1382.81,558.59) scale(1.051,1)" font-family="'Liberation Serif',serif" font-weight="normal" font-size="54.98">♥</text>
<text transform="translate(647.23,757.10) scale(1.090,1)" font-family="'DejaVu Sans',sans-serif" font-weight="normal" font-size="53.61">♣</text>
<text transform="translate(760.36,772.80) scale(1.099,1)" font-family="'DejaVu Sans',sans-serif" font-weight="normal" font-size="52.92">♣</text>
<text transform="translate(1138.33,777.10) scale(1.099,1)" font-family="'DejaVu Sans',sans-serif" font-weight="normal" font-size="53.2">♣</text>
<text transform="translate(1369.26,775.00) scale(1.093,1)" font-family="'DejaVu Sans',sans-serif" font-weight="normal" font-size="53.2">♣</text>
<text transform="translate(829.40,998.20) scale(1.032,1)" font-family="'DejaVu Sans',sans-serif" font-weight="normal" font-size="55.53">♦</text>
<text transform="translate(980.82,1143.70) scale(1.053,1)" font-family="'DejaVu Sans',sans-serif" font-weight="normal" font-size="53.75">♦</text>
<text transform="translate(1481.17,1183.80) scale(1.054,1)" font-family="'DejaVu Sans',sans-serif" font-weight="normal" font-size="54.57">♦</text>
</g>
</g>
</svg></body></html>
